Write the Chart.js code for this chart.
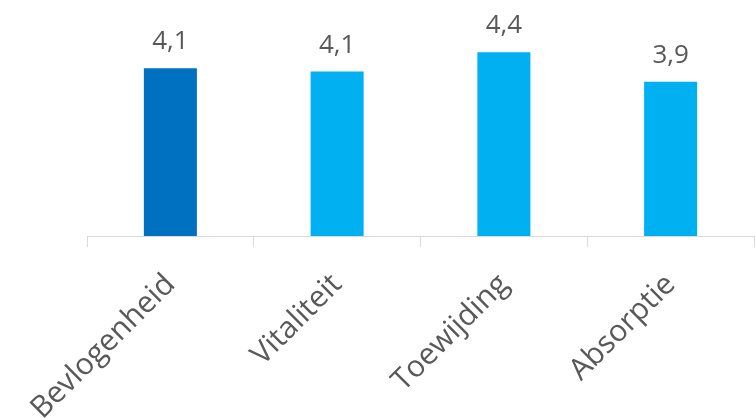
<!DOCTYPE html>
<html>
<head>
<meta charset="utf-8">
<script src="https://cdn.jsdelivr.net/npm/chart.js@4"></script>
<style>
  html, body { margin: 0; padding: 0; background: #fff; }
  #wrap { width: 756px; height: 418px; }
</style>
</head>
<body>
<div id="wrap"><canvas id="chart" width="756" height="418"></canvas></div>
<script>
// --- DATA ---
const categories = ["Bevlogenheid", "Vitaliteit", "Toewijding", "Absorptie"];
const scores = [4.12, 4.06, 4.42, 3.87];
const barColors = ["#0070C0", "#00B0F0", "#00B0F0", "#00B0F0"];
const scaleMin = 1;
const scaleMax = 5;

const FONT = "'Open Sans', 'Noto Sans', sans-serif";
const TEXT = "#595959";

// value labels above the bars, Dutch decimal comma
const valueLabels = {
    id: "valueLabels",
    afterDatasetsDraw(chart) {
        const ctx = chart.ctx;
        const meta = chart.getDatasetMeta(0);
        ctx.save();
        ctx.font = "26px " + FONT;
        ctx.fillStyle = TEXT;
        ctx.textAlign = "center";
        ctx.textBaseline = "alphabetic";
        meta.data.forEach((bar, i) => {
            const txt = scores[i].toFixed(1).replace(".", ",");
            ctx.fillText(txt, bar.x, bar.y - 19);
        });
        ctx.restore();
    }
};

new Chart(document.getElementById("chart"), {
    type: "bar",
    data: {
        labels: categories,
        datasets: [{
            data: scores,
            backgroundColor: barColors,
            barPercentage: 0.318,
            categoryPercentage: 1
        }]
    },
    options: {
        responsive: false,
        animation: false,
        layout: { padding: { left: 87, right: 2, top: 21, bottom: 0 } },
        plugins: { legend: { display: false }, tooltip: { enabled: false } },
        scales: {
            x: {
                grid: {
                    offset: true,
                    drawOnChartArea: false,
                    color: "#D9D9D9",
                    tickLength: 11
                },
                border: { color: "#D9D9D9", width: 1 },
                ticks: {
                    minRotation: 45,
                    maxRotation: 45,
                    padding: 20,
                    color: TEXT,
                    font: { family: FONT, size: 30 }
                },
                afterFit(scale) { scale.height = 182; }
            },
            y: {
                display: false,
                min: scaleMin,
                max: scaleMax
            }
        }
    },
    plugins: [valueLabels]
});
</script>
</body>
</html>
